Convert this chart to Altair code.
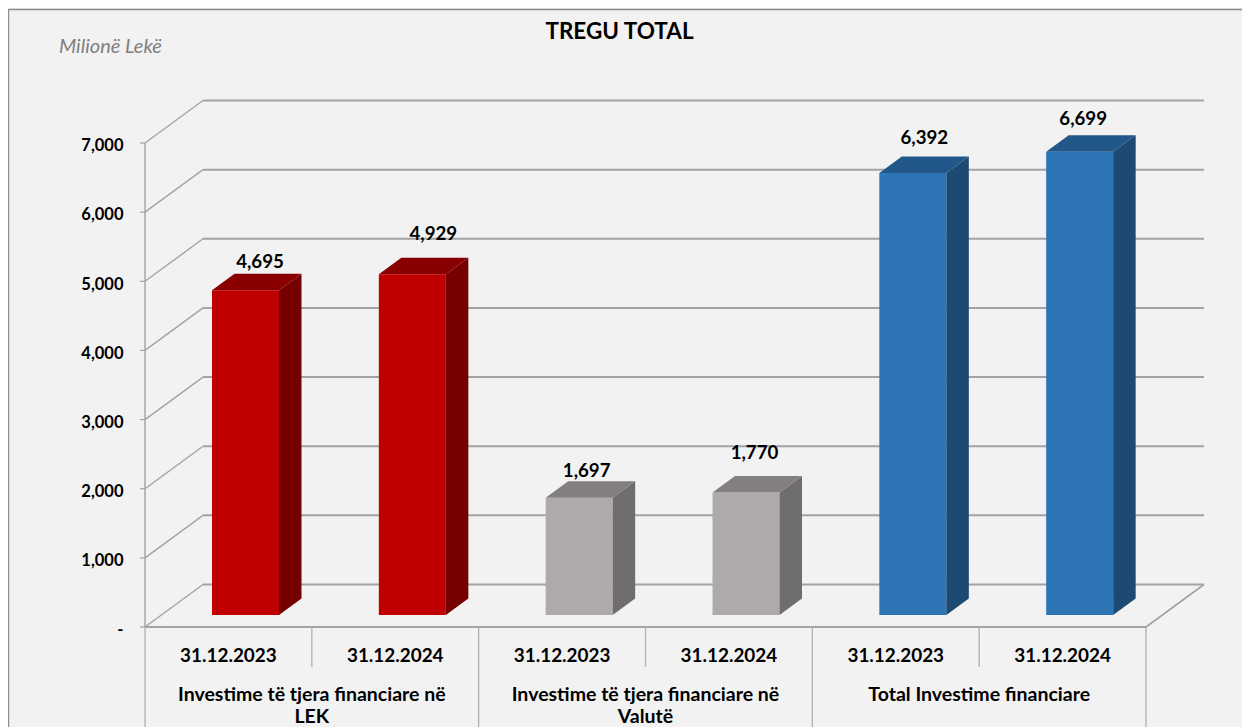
import altair as alt
import pandas as pd

dates = ["31.12.2023", "31.12.2024"] * 3
groups = [["Investime të tjera financiare në", "LEK"],
          ["Investime të tjera financiare në", "Valutë"],
          ["Total Investime financiare"]]
values = [4695, 4929, 1697, 1770, 6392, 6699]
front = ["#c00000", "#c00000", "#aeaaaa", "#aeaaaa", "#2e75b6", "#2e75b6"]
top_c = ["#8a0000", "#8a0000", "#837f7f", "#837f7f", "#225789", "#225789"]
side = ["#760000", "#760000", "#6f6d6d", "#6f6d6d", "#1c4a73", "#1c4a73"]
ticks = [0, 1000, 2000, 3000, 4000, 5000, 6000, 7000]

FONT = "Lato"
W, H = 1234, 719
PXX = 1001 / 6            # px per category
PXY = 484 / 7000          # px per value unit
X0, Y0 = 145 - 8, 627 - 8  # plot position of the (0, 0) corner
def ux(px): return px / PXX
def uy(px): return px / PXY

xs = alt.Scale(domain=[-X0 / PXX, (W - X0) / PXX], nice=False, zero=False)
ys = alt.Scale(domain=[-(H - Y0) / PXY, Y0 / PXY], nice=False, zero=False)
X = lambda f: alt.X(f, type="quantitative", axis=None, scale=xs)
Y = lambda f: alt.Y(f, type="quantitative", axis=None, scale=ys)

DX, DY = ux(58), uy(42.5)
segs = []
def seg(x, y, x2, y2, c, w):
    segs.append(dict(x=x, y=y, x2=x2, y2=y2, c=c, w=w))

GRID = "#a3a3a3"
for t in ticks:
    seg(0, t, DX, t + DY, GRID, 1.4)
    seg(DX, t + DY, 6 + DX, t + DY, GRID, 2)
    seg(-ux(5), t, 0, t, GRID, 1.2)
seg(0, 0, 0, 7000, GRID, 1.4)
seg(0, 0, 6, 0, GRID, 2)
seg(6, 0, 6 + DX, DY, GRID, 1.6)
low1, low2 = -uy(40), -(H - Y0) / PXY
for i in range(7):
    seg(i, 0, i, low2 if i % 2 == 0 else low1, "#b0b0b0", 1.3)
# chart frame: only the top and left edges are visible
fl, fr = -ux(X0 - 0.5), (W - X0) / PXX
ft = uy(Y0 - 1.5)
seg(fl, ft, fr, ft, "#8c8c8c", 1.4)
seg(fl, ft, fl, low2, "#8c8c8c", 1.4)
seg_df = pd.DataFrame(segs)

rules = alt.Chart(seg_df).mark_rule().encode(
    x=X("x"), y=Y("y"), x2="x2:Q", y2="y2:Q",
    color=alt.Color("c:N", scale=None), strokeWidth=alt.StrokeWidth("w:Q", scale=None))

BW = ux(67)
BL = ux(67)
BASE = uy(12)
BDX, BDY = ux(22.5), uy(16.5)
rows_front, rows_side, rows_top = [], [], []
for i, v in enumerate(values):
    l = i + BL
    r = l + BW
    rows_front.append(dict(l=l, r=r, b=BASE, t=BASE + v, c=front[i]))
    rows_side += [dict(id=i, x=r, y=BASE, y2=BASE + v, c=side[i]),
                  dict(id=i, x=r + BDX, y=BASE + BDY, y2=BASE + v + BDY, c=side[i])]
    rows_top += [dict(id=i, y=BASE + v, x=l, x2=r, c=top_c[i]),
                 dict(id=i, y=BASE + v + BDY, x=l + BDX, x2=r + BDX, c=top_c[i])]

bars = alt.Chart(pd.DataFrame(rows_front)).mark_rect(strokeWidth=0).encode(
    x=X("l"), x2="r:Q", y=Y("b"), y2="t:Q", color=alt.Color("c:N", scale=None))
sides = alt.Chart(pd.DataFrame(rows_side)).mark_area(orient="vertical").encode(
    x=X("x"), y=Y("y"), y2="y2:Q", detail="id:N", color=alt.Color("c:N", scale=None))
tops = alt.Chart(pd.DataFrame(rows_top)).mark_area(orient="horizontal").encode(
    y=Y("y"), x=X("x"), x2="x2:Q", detail="id:N", color=alt.Color("c:N", scale=None))

def text_layer(rows, **kw):
    return alt.Chart(pd.DataFrame(rows)).mark_text(font=FONT, baseline="middle", **kw).encode(
        x=X("x"), y=Y("y"), text="s:N")

# value labels: hand placed above each bar, lift is in px above the bar's front top
lifts = [28, 40.2, 26.7, 39.6, 35, 33]
shifts = [14.5, 21, 7.5, 8.5, 11.5, 3.5]
val_rows = []
for i, v in enumerate(values):
    val_rows.append(dict(x=i + BL + BW / 2 + ux(shifts[i]), y=BASE + v + uy(lifts[i]), s=f"{v:,}"))
val_text = text_layer(val_rows, fontWeight="bold", fontSize=18.7, color="#000000")

tick_rows = [dict(x=-ux(21.5), y=t - uy(3.3), s=(f"{t:,}" if t else "-")) for t in ticks]
tick_text = text_layer(tick_rows, fontWeight="bold", fontSize=16.5, color="#000000", align="right")

date_rows = [dict(x=i + 0.5, y=-uy(28.5), s=d) for i, d in enumerate(dates)]
date_text = text_layer(date_rows, fontWeight="bold", fontSize=18.9, color="#000000")

grp_rows = []
for g, lines in enumerate(groups):
    for k, s in enumerate(lines):
        grp_rows.append(dict(x=g * 2 + 1, y=-uy(68 + 22 * k), s=s))
grp_text = text_layer(grp_rows, fontWeight="bold", fontSize=19.5, color="#000000")

title = text_layer([dict(x=ux(619.5 - 145), y=uy(627 - 31.5), s="TREGU TOTAL")],
                   fontWeight="bold", fontSize=22.5, color="#000000")
unit = text_layer([dict(x=ux(59 - 145), y=uy(627 - 47), s="Milionë Lekë")],
                  fontStyle="italic", fontSize=20, color="#7f7f7f", align="left")

chart = alt.layer(rules, bars, sides, tops, val_text, tick_text, date_text, grp_text, title, unit).properties(
    width=W, height=H, background="#ffffff",
    padding={"left": 0, "top": 0, "right": 0, "bottom": 0},
    autosize=alt.AutoSizeParams(type="none"),
).configure_view(fill="#f2f2f2", stroke=None)

chart.save("out.html", embed_options={"renderer": "svg", "actions": False})
